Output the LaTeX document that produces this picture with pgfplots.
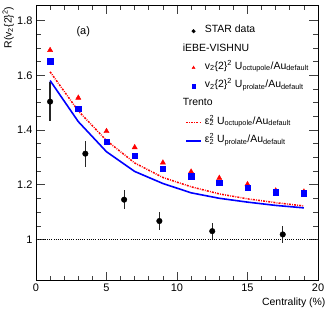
\documentclass[border=0pt]{standalone}
\usepackage{fontspec}
\setmainfont{Liberation Sans}
\usepackage{pgfplots}
\pgfplotsset{compat=1.18}
\usetikzlibrary{calc}

\definecolor{cred}{RGB}{255,0,0}
\definecolor{cblue}{RGB}{0,0,255}

\newcommand{\sub}[1]{\textsubscript{#1}}
\newcommand{\epstwo}{ε\textsuperscript{2}\llap{\textsubscript{2}}}

\begin{document}
\begin{tikzpicture}
\begin{axis}[
  scale only axis, width=282bp, height=275.7bp,
  xmin=0, xmax=20, ymin=0.85, ymax=1.857,
  xtick={0,5,10,15,20}, ytick={1,1.2,1.4,1.6,1.8},
  minor x tick num=4, minor y tick num=3,
  tick align=inside, major tick length=9bp, minor tick length=5bp,
  tick style={line width=0.8bp, black!75},
  axis line style={line width=0.9bp},
  /pgf/number format/assume math mode=true,
  tick label style={font=\fontsize{11}{13}\selectfont},
  xlabel={Centrality (\%)}, ylabel={R(v\sub{2}\{2\}\textsuperscript{2})},
  label style={font=\fontsize{10.5}{12}\selectfont},
  x label style={at={(axis description cs:1.039,-0.081)}, anchor=east},
  y label style={at={(axis description cs:-0.099,1.007)}, anchor=east},
  legend image code/.code={\draw[mark repeat=2,mark phase=2,#1] plot coordinates {(0bp,0bp)(7.5bp,0bp)(15bp,0bp)};},
  legend image post style={mark size=1.8bp},
  legend style={at={(axis description cs:0.518,0.94)}, anchor=north west,
    draw=none, fill=none, font=\fontsize{10.5}{12}\selectfont,
    nodes={inner sep=1bp, text height=8bp, text depth=5bp},
    row sep=3.3bp, column sep=2bp},
  legend cell align=left,
]
\addplot[black, line width=0.6bp, dash pattern=on 1bp off 1.2bp, forget plot] coordinates {(0,1)(20,1)};

\addplot[only marks, mark=*, mark size=2.8bp, black,
  error bars/.cd, y dir=both, y explicit, error mark=none,
  error bar style={line width=1.2bp, black!85}]
  coordinates {
  (1,1.504) +- (0,0.072)
  (3.5,1.314) +- (0,0.047)
  (6.25,1.146) +- (0,0.035)
  (8.75,1.068) +- (0,0.033)
  (12.5,1.031) +- (0,0.03)
  (17.5,1.019) +- (0,0.03)
};
\addlegendentry{STAR data}

\addlegendimage{empty legend}
\addlegendentry{\hspace*{-22bp}iEBE-VISHNU}

\addplot[only marks, mark=triangle*, mark size=3bp, cred] coordinates {
  (1,1.692)(3,1.518)(5,1.396)(7,1.337)(9,1.281)(11,1.248)(13,1.225)(15,1.202)(17,1.179)(19,1.175)
};
\addlegendentry{v\sub{2}\{2\}\textsuperscript{2} U\sub{octupole}/Au\sub{default}}

\addplot[only marks, mark=square*, mark size=2.7bp, cblue] coordinates {
  (1,1.652)(3,1.479)(5,1.358)(7,1.307)(9,1.258)(11,1.232)(13,1.208)(15,1.19)(17,1.173)(19,1.169)
};
\addlegendentry{v\sub{2}\{2\}\textsuperscript{2} U\sub{prolate}/Au\sub{default}}

\addlegendimage{empty legend}
\addlegendentry{\hspace*{-22bp}Trento}

\addplot[cred, line width=1.5bp, dash pattern=on 2bp off 1.2bp on 0.8bp off 1.2bp] coordinates {
  (1,1.613)(3,1.47)(5,1.362)(7,1.28)(9,1.227)(11,1.193)(13,1.167)(15,1.149)(17,1.135)(19,1.123)
};
\addlegendentry{\epstwo{} U\sub{octupole}/Au\sub{default}}

\addplot[cblue, line width=1.6bp] coordinates {
  (1,1.581)(3,1.431)(5,1.321)(7,1.249)(9,1.205)(11,1.171)(13,1.151)(15,1.137)(17,1.125)(19,1.116)
};
\addlegendentry{\epstwo{} U\sub{prolate}/Au\sub{default}}

\node[font=\fontsize{11}{13}\selectfont] at (axis cs:3.35,1.759) {(a)};
\end{axis}
\pgfresetboundingbox
\path ($(current axis.south west)+(-36bp,-42.3bp)$) rectangle ($(current axis.north east)+(15bp,5bp)$);
\end{tikzpicture}
\end{document}
